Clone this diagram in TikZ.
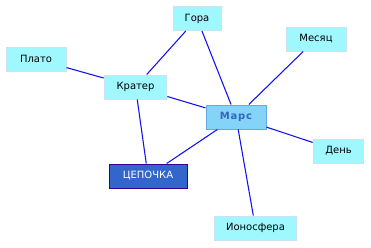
\documentclass[tikz,border=0pt]{standalone}
\usepackage{fontspec}
\setmainfont{DejaVu Sans}
\definecolor{boxfill}{HTML}{A0F8FF}
\definecolor{boxline}{HTML}{C8E4F4}
\definecolor{marsfill}{HTML}{84D4F8}
\definecolor{marsline}{HTML}{64A8E4}
\definecolor{marstext}{HTML}{3464C4}
\definecolor{chainfill}{HTML}{3366CC}
\definecolor{chainline}{HTML}{330099}
\definecolor{edge}{HTML}{1010F0}
\begin{document}
\begin{tikzpicture}[x=0.75pt,y=-0.75pt,
  every node/.style={font=\fontsize{7.5pt}{9pt}\selectfont, inner sep=0pt, anchor=center},
  term/.style={draw=boxline, fill=boxfill, line width=0.75pt, minimum height=18pt},
  mars/.style={draw=marsline, fill=marsfill, line width=0.75pt, minimum height=18pt, text=marstext, font=\fontsize{7.5pt}{9pt}\selectfont\bfseries\addfontfeatures{LetterSpace=8}},
  chain/.style={draw=chainline, fill=chainfill, line width=0.75pt, minimum height=18pt, text=white},
  link/.style={draw=edge, line width=0.8pt}]
\useasboundingbox (0,0) rectangle (371,247);
\node[term, minimum width=36pt] (gora) at (197,18.5) {Гора};
\node[term, minimum width=45pt] (plato) at (36,59) {Плато};
\node[term, minimum width=45pt] (mesyac) at (316,39) {Месяц};
\node[term, minimum width=47pt] (krater) at (135.5,87) {Кратер};
\node[mars, minimum width=45pt] (mars) at (236,117) {Марс};
\node[term, minimum width=38pt] (den) at (338.5,151) {День};
\node[chain, minimum width=58.5pt] (chain) at (148,176) {ЦЕПОЧКА};
\node[term, minimum width=62pt] (iono) at (255.5,228) {Ионосфера};
\path[link] (plato) -- (krater);
\path[link] (krater) -- (gora);
\path[link] (gora) -- (mars);
\path[link] (mesyac) -- (mars);
\path[link] (krater) -- (mars);
\path[link] (krater) -- (chain);
\path[link] (mars) -- (chain);
\path[link] (mars) -- (den);
\path[link] (mars) -- (iono);
\end{tikzpicture}
\end{document}
